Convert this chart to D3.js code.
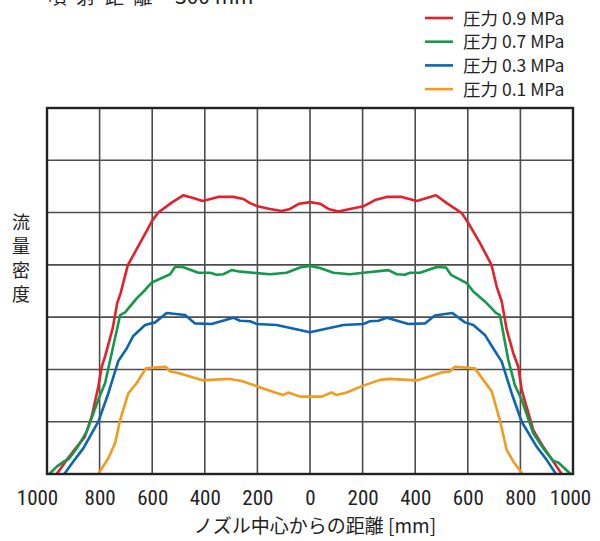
<!DOCTYPE html>
<html>
<head>
<meta charset="utf-8">
<script src="https://cdn.jsdelivr.net/npm/d3@7"></script>
<style>
  html, body { margin: 0; padding: 0; background: #fff; }
  svg { display: block; }
</style>
</head>
<body>
<svg id="chart" width="600" height="541"></svg>
<script>
// ---- data ----
const xTicks = [-1000, -800, -600, -400, -200, 0, 200, 400, 600, 800, 1000];
const yTicks = [0, 1, 2, 3, 4, 5, 6, 7];

const seriesNames = ["圧力 0.9 MPa", "圧力 0.7 MPa", "圧力 0.3 MPa", "圧力 0.1 MPa"];

const red09 = [
  [-963,0],[-925,0.27],[-887,0.52],[-856,0.71],[-830,1.10],[-805,1.67],[-792,2.05],[-779,2.25],
  [-750,2.79],[-733,3.27],[-720,3.46],[-693,3.99],[-646,4.42],[-598,4.86],[-577,5.00],[-526,5.19],
  [-482,5.33],[-444,5.28],[-408,5.22],[-393,5.24],[-349,5.30],[-292,5.30],[-253,5.26],[-228,5.18],
  [-200,5.12],[-152,5.07],[-108,5.03],[-76,5.07],[-41,5.17],[0,5.20],[38,5.17],[70,5.07],
  [108,5.02],[152,5.07],[203,5.12],[247,5.24],[292,5.30],[349,5.30],[406,5.22],[479,5.33],
  [520,5.18],[577,4.99],[602,4.80],[646,4.42],[690,4.00],[710,3.58],[729,3.30],[748,2.76],
  [773,2.31],[792,2.05],[805,1.61],[849,0.84],[887,0.52],[925,0.24],[957,0]
];
const green07 = [
  [-991,0],[-963,0.14],[-932,0.25],[-919,0.28],[-887,0.49],[-849,0.81],[-805,1.42],[-779,1.74],
  [-722,3.04],[-703,3.09],[-659,3.36],[-627,3.52],[-602,3.66],[-532,3.82],[-513,3.96],[-484,3.96],
  [-425,3.85],[-380,3.85],[-355,3.81],[-330,3.82],[-298,3.90],[-266,3.87],[-152,3.82],[-89,3.85],
  [-38,3.95],[0,3.98],[38,3.94],[89,3.85],[152,3.82],[203,3.85],[298,3.90],[330,3.82],
  [361,3.81],[380,3.85],[418,3.85],[482,3.96],[517,3.95],[536,3.81],[596,3.65],[621,3.49],
  [665,3.30],[707,3.08],[722,3.04],[754,2.18],[779,1.70],[805,1.42],[849,0.78],[887,0.49],
  [925,0.25],[944,0.22],[991,0]
];
const blue03 = [
  [-934,0],[-900,0.24],[-862,0.49],[-805,1.00],[-767,1.54],[-729,2.16],[-697,2.40],[-672,2.64],
  [-627,2.85],[-589,2.90],[-545,3.08],[-475,3.04],[-437,2.88],[-374,2.87],[-292,2.99],[-266,2.93],
  [-228,2.92],[-203,2.87],[-127,2.85],[0,2.71],[127,2.85],[203,2.87],[228,2.92],[260,2.93],
  [292,2.99],[374,2.87],[437,2.88],[475,3.03],[541,3.08],[589,2.90],[621,2.85],[665,2.66],
  [697,2.40],[729,2.15],[767,1.54],[805,1.00],[862,0.52],[900,0.27],[935,0]
];
const orange01 = [
  [-805,0],[-767,0.30],[-741,0.59],[-722,1.03],[-691,1.54],[-659,1.74],[-624,2.02],[-577,2.04],
  [-548,2.05],[-532,1.96],[-501,1.93],[-406,1.79],[-311,1.82],[-260,1.78],[-203,1.68],[-133,1.56],
  [-101,1.51],[-82,1.56],[-38,1.48],[0,1.48],[44,1.48],[82,1.56],[101,1.51],[139,1.56],
  [203,1.69],[266,1.80],[304,1.82],[406,1.79],[501,1.94],[532,1.96],[551,2.05],[627,2.02],
  [691,1.58],[722,1.03],[748,0.46],[773,0.24],[808,0]
];

const seriesData = [red09, green07, blue03, orange01];
const seriesColors = ["#e3212b", "#12994a", "#0b65b3", "#f39b1f"];

// ---- layout ----
const svg = d3.select("#chart");
const margin = { left: 47, right: 27, top: 108, bottom: 67 };
const W = 600, H = 541;
const x = d3.scaleLinear().domain([-1000, 1000]).range([margin.left, W - margin.right]);
const y = d3.scaleLinear().domain([0, 7]).range([H - margin.bottom, margin.top]);

const jpFont = "'Noto Sans CJK JP', 'Noto Sans', sans-serif";
const numFont = "'Liberation Sans Narrow', 'Roboto Condensed', 'DejaVu Sans Condensed', sans-serif";

// grid
const grid = svg.append("g");
grid.selectAll("line.v").data(xTicks.slice(1, -1)).join("line")
  .attr("x1", d => x(d)).attr("x2", d => x(d))
  .attr("y1", y(7)).attr("y2", y(0))
  .attr("stroke", "#4d4d4d").attr("stroke-width", 1.6);
grid.selectAll("line.h").data(yTicks.slice(1, -1)).join("line")
  .attr("x1", x(-1000)).attr("x2", x(1000))
  .attr("y1", d => y(d)).attr("y2", d => y(d))
  .attr("stroke", "#4d4d4d").attr("stroke-width", 1.6);

// series
const line = d3.line().x(d => x(d[0])).y(d => y(d[1]));
svg.append("g").selectAll("path").data(seriesData).join("path")
  .attr("d", line)
  .attr("fill", "none")
  .attr("stroke", (d, i) => seriesColors[i])
  .attr("stroke-width", 2.6)
  .attr("stroke-linejoin", "round");

// frame
svg.append("rect")
  .attr("x", x(-1000)).attr("y", y(7))
  .attr("width", x(1000) - x(-1000)).attr("height", y(0) - y(7))
  .attr("fill", "none").attr("stroke", "#222").attr("stroke-width", 2.4);

// x axis labels
const xAxis = d3.axisBottom(x).tickValues(xTicks).tickSize(0).tickPadding(0)
  .tickFormat(d => Math.abs(d));
const gx = svg.append("g").attr("transform", `translate(0, ${y(0)})`).call(xAxis);
gx.select(".domain").remove();
gx.selectAll("text")
  .attr("y", 31).attr("dy", null)
  .attr("fill", "#222")
  .style("font-family", numFont).style("font-size", "21px")
  .attr("dx", d => d === -1000 ? -10 : (d === 1000 ? -3 : 0));

// x axis title
svg.append("text")
  .attr("x", 315).attr("y", 533)
  .attr("text-anchor", "middle")
  .attr("fill", "#222")
  .style("font-family", jpFont).style("font-size", "19px")
  .text("ノズル中心からの距離 [mm]");

// y axis title (vertical stacked)
const yTitle = "流量密度";
svg.append("g").selectAll("text").data(Array.from(yTitle)).join("text")
  .attr("x", 21).attr("y", (d, i) => 229 + i * 24)
  .attr("text-anchor", "middle")
  .attr("fill", "#222")
  .style("font-family", jpFont).style("font-size", "18px")
  .text(d => d);

// top title (partly cut off)
svg.append("text")
  .attr("x", 48).attr("y", 4)
  .attr("fill", "#222")
  .style("font-family", jpFont).style("font-size", "19px")
  .style("letter-spacing", "9.5px")
  .text("噴射距離");
svg.append("text")
  .attr("x", 175).attr("y", 4)
  .attr("fill", "#222")
  .style("font-family", jpFont).style("font-size", "21px")
  .text("300 mm");

// legend
const legend = svg.append("g");
const lg = legend.selectAll("g").data(seriesNames).join("g")
  .attr("transform", (d, i) => `translate(425, ${18 + i * 23.7})`);
lg.append("line")
  .attr("x1", 0).attr("x2", 28).attr("y1", 0).attr("y2", 0)
  .attr("stroke", (d, i) => seriesColors[i]).attr("stroke-width", 2.6);
lg.append("text")
  .attr("x", 38).attr("y", 6.5)
  .attr("fill", "#222")
  .style("font-family", jpFont).style("font-size", "17.5px")
  .text(d => d);
</script>
</body>
</html>
